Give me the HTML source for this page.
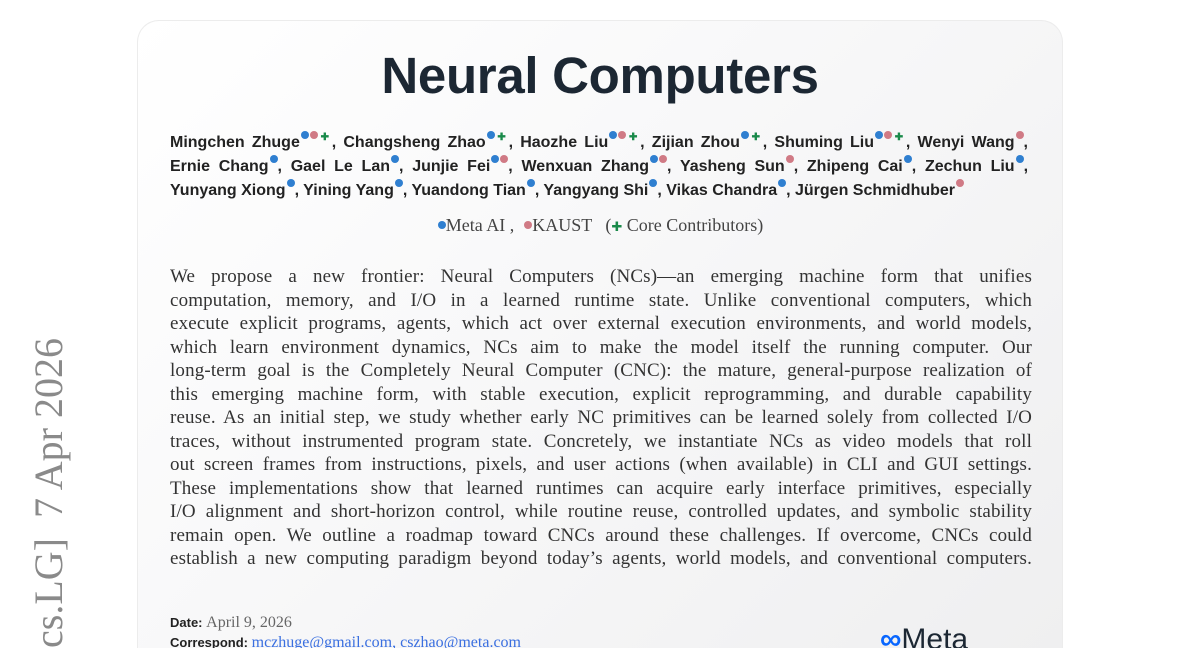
<!DOCTYPE html>
<html><head><meta charset="utf-8"><style>
html,body{margin:0;padding:0;width:1200px;height:648px;overflow:hidden;background:#fff;}
#w{position:relative;width:1200px;height:648px;overflow:hidden;}
.card{position:absolute;left:137px;top:20px;width:926px;height:628px;border-radius:22px 22px 0 0;background:linear-gradient(135deg,#ffffff 0%,#f7f7f8 50%,#efeff0 100%);border:1px solid #ececec;border-bottom:none;box-sizing:border-box;}
.arx{position:absolute;left:27px;top:338px;writing-mode:vertical-rl;transform:rotate(180deg);font-family:"Liberation Serif",serif;font-size:40px;color:#8a8a8a;white-space:nowrap;line-height:44px;}
h1{position:absolute;left:137px;width:926px;top:46px;margin:0;text-align:center;font-family:"Liberation Sans",sans-serif;font-weight:bold;font-size:51px;color:#1c2733;letter-spacing:-0.3px;}
.auth{position:absolute;left:170px;width:858px;font-family:"Liberation Sans",sans-serif;font-weight:bold;font-size:16px;color:#222;line-height:24px;}
.ln2{text-align:justify;text-align-last:justify;height:24px;line-height:24px;white-space:nowrap;}
.b{display:inline-block;width:8px;height:8px;border-radius:50%;background:#2f7fd0;position:relative;top:-8px;margin-left:1px;vertical-align:baseline;}
.r{background:#d07a85;}
.g{color:#1a8a4a;font-size:10px;position:relative;top:-7px;}
.aff{position:absolute;left:137px;width:926px;top:215px;text-align:center;font-family:"Liberation Serif",serif;font-size:18px;color:#444;}
.abs{position:absolute;left:170px;width:862px;top:265px;font-family:"Liberation Serif",serif;font-size:19px;letter-spacing:0.15px;color:#333;line-height:23.5px;}
.abs div{text-align:justify;text-align-last:justify;white-space:nowrap;}
.meta{position:absolute;left:170px;font-family:"Liberation Sans",sans-serif;font-size:13px;color:#222;line-height:18px;}
.meta b{font-weight:bold;}
.meta .s{font-family:"Liberation Serif",serif;font-size:16px;color:#666;}
.meta .l{font-family:"Liberation Serif",serif;font-size:16px;color:#3a6fe0;}
.logo{position:absolute;left:880px;top:624px;font-family:"Liberation Sans",sans-serif;font-size:30px;line-height:24px;height:24px;overflow:hidden;padding-top:4px;color:#1c2733;}
</style></head><body><div id="w">
<div class="arx">[cs.LG] &nbsp;7 Apr 2026</div>
<div class="card"></div>
<h1>Neural Computers</h1>
<div class="auth" style="top:131px">
<div class="ln2">Mingchen Zhuge<span class="b"></span><span class="b r"></span><span class="g">✚</span>, Changsheng Zhao<span class="b"></span><span class="g">✚</span>, Haozhe Liu<span class="b"></span><span class="b r"></span><span class="g">✚</span>, Zijian Zhou<span class="b"></span><span class="g">✚</span>, Shuming Liu<span class="b"></span><span class="b r"></span><span class="g">✚</span>, Wenyi Wang<span class="b r"></span>,</div>
<div class="ln2">Ernie Chang<span class="b"></span>, Gael Le Lan<span class="b"></span>, Junjie Fei<span class="b"></span><span class="b r"></span>, Wenxuan Zhang<span class="b"></span><span class="b r"></span>, Yasheng Sun<span class="b r"></span>, Zhipeng Cai<span class="b"></span>, Zechun Liu<span class="b"></span>,</div>
<div style="white-space:nowrap;height:24px;line-height:24px">Yunyang Xiong<span class="b"></span>, Yining Yang<span class="b"></span>, Yuandong Tian<span class="b"></span>, Yangyang Shi<span class="b"></span>, Vikas Chandra<span class="b"></span>, Jürgen Schmidhuber<span class="b r"></span></div>
</div>
<div class="aff"><span class="b" style="top:-2px"></span>Meta AI , &nbsp;<span class="b r" style="top:-2px"></span>KAUST &nbsp; (<span style="color:#1a8a4a;font-size:13px">✚</span> Core Contributors)</div>
<div class="abs">
<div>We propose a new frontier: Neural Computers (NCs)—an emerging machine form that unifies</div>
<div>computation, memory, and I/O in a learned runtime state. Unlike conventional computers, which</div>
<div>execute explicit programs, agents, which act over external execution environments, and world models,</div>
<div>which learn environment dynamics, NCs aim to make the model itself the running computer. Our</div>
<div>long-term goal is the Completely Neural Computer (CNC): the mature, general-purpose realization of</div>
<div>this emerging machine form, with stable execution, explicit reprogramming, and durable capability</div>
<div>reuse. As an initial step, we study whether early NC primitives can be learned solely from collected I/O</div>
<div>traces, without instrumented program state. Concretely, we instantiate NCs as video models that roll</div>
<div>out screen frames from instructions, pixels, and user actions (when available) in CLI and GUI settings.</div>
<div>These implementations show that learned runtimes can acquire early interface primitives, especially</div>
<div>I/O alignment and short-horizon control, while routine reuse, controlled updates, and symbolic stability</div>
<div>remain open. We outline a roadmap toward CNCs around these challenges. If overcome, CNCs could</div>
<div>establish a new computing paradigm beyond today’s agents, world models, and conventional computers.</div>
</div>
<div class="meta" style="top:614px"><b>Date:</b> <span class="s">April 9, 2026</span></div>
<div class="meta" style="top:634px;height:14px;overflow:hidden"><b>Correspond:</b> <span class="l">mczhuge@gmail.com, cszhao@meta.com</span></div>
<div class="logo"><span style="color:#0866ff;font-weight:bold">∞</span>Meta</div>
</div></body></html>
